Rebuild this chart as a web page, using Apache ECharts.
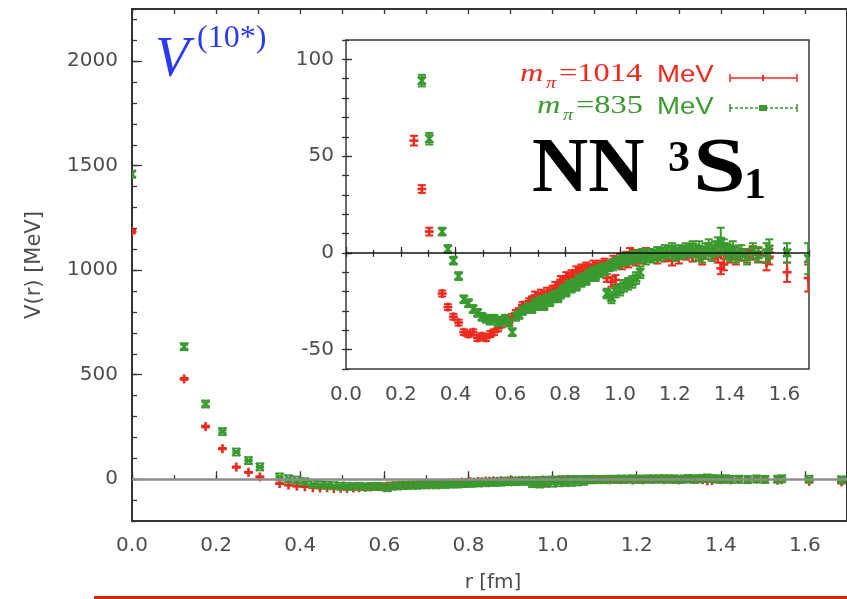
<!DOCTYPE html>
<html>
<head>
<meta charset="utf-8">
<script src="https://cdn.jsdelivr.net/npm/echarts@6/dist/echarts.min.js"></script>
<style>html,body{margin:0;padding:0;background:#fff;}#c{width:847px;height:599px;}</style>
</head>
<body>
<div id="c"></div>
<script>
// ---- data ----
var rLattice = [
  0, 0.124, 0.175, 0.215, 0.248, 0.277, 0.304, 0.351, 0.372, 0.392,
  0.411, 0.430, 0.447, 0.464, 0.480, 0.496, 0.511, 0.526, 0.540, 0.555,
  0.568, 0.582, 0.595, 0.607, 0.620, 0.632, 0.644, 0.656, 0.668, 0.679,
  0.690, 0.701, 0.712, 0.723, 0.734, 0.744, 0.754, 0.764, 0.774, 0.784,
  0.794, 0.804, 0.813, 0.823, 0.832, 0.841, 0.850, 0.859, 0.868, 0.877,
  0.886, 0.894, 0.903, 0.911, 0.920, 0.928, 0.936, 0.944, 0.952, 0.961,
  0.969, 0.976, 0.984, 0.992, 1.000, 1.007, 1.015, 1.023, 1.030, 1.037,
  1.045, 1.052, 1.059, 1.067, 1.074, 1.081, 1.095, 1.109, 1.122, 1.136,
  1.150, 1.163, 1.176, 1.190, 1.203, 1.215, 1.228, 1.240, 1.253, 1.265,
  1.277, 1.289, 1.300, 1.312, 1.324, 1.335, 1.346, 1.357, 1.368, 1.379,
  1.390, 1.401, 1.412, 1.423, 1.443, 1.464, 1.485, 1.505, 1.535, 1.545,
  1.610, 1.687
];
var redV = [
  1185, 480, 252, 146, 58, 33, 11, -21, -28, -33,
  -36, -41, -42, -41, -44, -43, -44, -42, -41, -39,
  -37, -35, -36, -33, -31, -30, -27, -28, -25, -24,
  -22, -23, -21, -22, -20, -21, -19, -17, -18, -14,
  -15, -12, -14, -11, -12, -9, -10, -8, -10, -7,
  -9, -8, -6, -9, -7, -6, -8, -5, -13, -6,
  -15, -4, -14, -5, -3, -6, -4, -2, -5, 0,
  -3, -1, -4, -2, -1, -3, 0, -2, -1, -3,
  0, -2, -1, -4, 0, -3, 1, -1, 0, -2,
  1, -1, -3, 0, 2, -1, 0, -2, -8, -6,
  1, -2, 0, -3, -1, -2, 0, -1, -5, -2,
  -10, -13
];
var redErr = [
  8, 5, 4, 3, 2.5, 2, 2, 1.5, 1.5, 1.5,
  1.5, 1.5, 1.5, 1.5, 1.5, 1.5, 1.5, 1.5, 1.5, 1.5,
  1.5, 1.5, 1.5, 1.5, 1.5, 1.5, 1.5, 1.5, 1.5, 1.5,
  2, 2, 2, 2, 2, 2, 2, 2, 2, 2,
  2, 2, 2, 2, 2, 2, 2, 2, 2, 2,
  2, 2, 2, 2, 2, 2, 2, 2, 2, 2,
  2.5, 2.5, 2.5, 2.5, 2.5, 2.5, 2.5, 2.5, 2.5, 2.5,
  2.5, 2.5, 2.5, 2.5, 2.5, 2.5, 2.5, 2.5, 2.5, 2.5,
  2.5, 2.5, 2.5, 2.5, 2.5, 2.5, 2.5, 2.5, 2.5, 2.5,
  3, 3, 3, 3, 3, 3, 3, 3, 3, 3,
  3, 3, 3, 3, 3, 3, 3.5, 3.5, 4, 4,
  5, 7
];
var greenV = [
  1460, 634, 360, 228, 130, 89, 59, 11, 2, -4,
  -12, -24, -26, -29, -31, -33, -34, -35, -34, -36,
  -35, -34, -36, -41, -33, -32, -30, -29, -28, -29,
  -26, -27, -25, -27, -24, -25, -23, -22, -23, -21,
  -19, -20, -17, -18, -16, -17, -14, -15, -13, -14,
  -11, -12, -10, -12, -9, -10, -8, -9, -21, -7,
  -23, -6, -20, -5, -19, -4, -17, -3, -16, -3,
  -15, -2, -13, -2, -10, -1, -3, -1, -2, 0,
  -1, 1, 0, 2, -1, 1, 0, 2, 1, 3,
  0, 2, -1, 1, 3, 0, 2, 4, 6, 3,
  1, 0, 2, -1, 0, -2, 1, -1, 0, 2,
  0, -3
];
var greenErr = [
  15, 10, 8, 5, 4, 3, 3, 2, 2, 2,
  2, 2, 2, 2, 2, 2, 2, 2, 2, 2,
  2, 2, 2, 2, 2, 2, 2, 2, 2, 2,
  2.5, 2.5, 2.5, 2.5, 2.5, 2.5, 2.5, 2.5, 2.5, 2.5,
  2.5, 2.5, 2.5, 2.5, 2.5, 2.5, 2.5, 2.5, 2.5, 2.5,
  2.5, 2.5, 2.5, 2.5, 2.5, 2.5, 2.5, 2.5, 2.5, 2.5,
  3, 3, 3, 3, 3, 3, 3, 3, 3, 3,
  3, 3, 3, 3, 3, 3, 3, 3, 3, 3,
  3, 3, 3, 3, 3, 3, 3, 3, 3, 3,
  4, 4, 4, 4, 4, 4, 4, 4, 7, 4,
  4, 4, 4, 4, 4, 4, 4, 4, 5, 5,
  5, 8
];
var xMajorTicks = [0, 0.2, 0.4, 0.6, 0.8, 1.0, 1.2, 1.4, 1.6];
var yMainTicks = [0, 500, 1000, 1500, 2000];
var yInsetTicks = [-50, 0, 50, 100];

// ---- styling ----
var RED = '#ee2a1e', GREEN = '#3a9a30', BLUE = '#2a3af0', LABEL = '#4d4d4d', AXIS = '#333';
var tickFont = {fontFamily: 'DejaVu Sans', fontSize: 20, color: LABEL};

function build(vals, errs) {
  return rLattice.map(function (r, i) { return [r, vals[i], errs[i]]; });
}
function ln(x1, y1, x2, y2, color, w) {
  return {type: 'line', shape: {x1: x1, y1: y1, x2: x2, y2: y2}, style: {stroke: color, lineWidth: w || 1.5}};
}
function renderer(kind, color) {
  return function (params, api) {
    var r = api.value(0), v = api.value(1), e = api.value(2);
    var c = api.coord([r, v]);
    var t = api.coord([r, v + e]);
    var b = api.coord([r, v - e]);
    var cap = 4, s = 4.5;
    var kids = [
      ln(c[0], t[1], c[0], b[1], color, 2),
      ln(c[0] - cap, t[1], c[0] + cap, t[1], color, 2),
      ln(c[0] - cap, b[1], c[0] + cap, b[1], color, 2)
    ];
    if (kind === 'plus') {
      kids.push(ln(c[0] - s, c[1], c[0] + s, c[1], color, 2.6));
      kids.push(ln(c[0], c[1] - s, c[0], c[1] + s, color, 2.6));
    } else {
      kids.push(ln(c[0] - 4, c[1] - 4, c[0] + 4, c[1] + 4, color, 2.2));
      kids.push(ln(c[0] - 4, c[1] + 4, c[0] + 4, c[1] - 4, color, 2.2));
      kids.push(ln(c[0] - 4, c[1] - 3.5, c[0] + 4, c[1] - 3.5, color, 1.8));
      kids.push(ln(c[0] - 4, c[1] + 3.5, c[0] + 4, c[1] + 3.5, color, 1.8));
    }
    return {type: 'group', children: kids};
  };
}
function series(kind, color, vals, errs, xi, yi, zeroColor, zeroW) {
  var s = {
    type: 'custom', xAxisIndex: xi, yAxisIndex: yi, clip: true,
    encode: {x: 0, y: 1}, renderItem: renderer(kind, color),
    data: build(vals, errs), silent: true
  };
  if (zeroColor) {
    s.markLine = {silent: true, symbol: ['none', 'none'], label: {show: false}, animation: false,
      lineStyle: {type: 'solid', color: zeroColor, width: zeroW}, data: [{yAxis: 0}]};
  }
  return s;
}
function txt(text, x, baseline, size, family, o) {
  o = o || {};
  var font = (o.style || 'normal') + ' ' + (o.weight || 'normal') + ' ' + size + 'px ' + family;
  return {type: 'text', x: x, y: baseline - 0.34 * size, scaleX: o.sx || 1, rotation: o.rot || 0, z: 100,
    style: {text: text, font: font, fill: o.color || '#000',
      textAlign: o.align || 'left', align: o.align || 'left',
      textVerticalAlign: 'middle', verticalAlign: 'middle'}};
}
var SERIF = '"Liberation Serif"', SANS = '"Liberation Sans"', DV = '"DejaVu Sans"';

function xAx(grid, max, pos, opts) {
  var a = {type: 'value', gridIndex: grid, min: 0, max: max, position: pos,
    axisLine: {show: false}, splitLine: {show: false},
    axisTick: {inside: true, length: opts.len, lineStyle: {color: AXIS, width: 1.3}},
    axisLabel: {show: false}};
  if (opts.major) {
    a.axisTick.customValues = xMajorTicks;
    a.axisLabel = Object.assign({show: true, customValues: xMajorTicks, margin: opts.margin,
      formatter: function (v) { return v.toFixed(1); }}, tickFont);
  } else {
    a.interval = 0.1;
  }
  return a;
}
function yAx(grid, min, max, pos, opts) {
  var a = {type: 'value', gridIndex: grid, min: min, max: max, position: pos,
    axisLine: {show: false}, splitLine: {show: false},
    axisTick: {inside: true, length: opts.len, lineStyle: {color: AXIS, width: 1.3}},
    axisLabel: {show: false}};
  if (opts.major) {
    a.axisTick.customValues = opts.major;
    a.axisLabel = Object.assign({show: true, customValues: opts.major, margin: opts.margin,
      formatter: function (v) { return String(v); }}, tickFont);
  } else {
    a.interval = opts.interval;
  }
  return a;
}

var chart = echarts.init(document.getElementById('c'), null, {renderer: 'canvas'});
chart.setOption({
  animation: false,
  backgroundColor: '#fff',
  grid: [
    {left: 132, top: 9, width: 722, height: 512, show: true, borderColor: AXIS, borderWidth: 2, backgroundColor: 'transparent'},
    {left: 346, top: 40, width: 463, height: 329, show: true, borderColor: '#3a3a3a', borderWidth: 1.5, backgroundColor: '#fff'}
  ],
  xAxis: [
    xAx(0, 1.7, 'bottom', {major: true, len: 8, margin: 15}),
    xAx(0, 1.7, 'bottom', {len: 4}),
    xAx(0, 1.7, 'top', {len: 5}),
    xAx(1, 1.69, 'bottom', {major: true, len: 6, margin: 16}),
    xAx(1, 1.69, 'bottom', {len: 3}),
    xAx(1, 1.69, 'top', {len: 4})
  ],
  yAxis: [
    yAx(0, -200, 2250, 'left', {major: yMainTicks, len: 10, margin: 14}),
    yAx(0, -200, 2250, 'left', {interval: 100, len: 5}),
    yAx(1, -60, 110, 'left', {major: yInsetTicks, len: 6, margin: 12}),
    yAx(1, -60, 110, 'left', {interval: 10, len: 3}),
    yAx(1, -60, 110, 'right', {interval: 10, len: 4})
  ],
  series: [
    series('plus', RED, redV, redErr, 0, 0, '#8c8c8c', 2.5),
    series('cross', GREEN, greenV, greenErr, 0, 0),
    series('plus', RED, redV, redErr, 3, 2, '#111', 1.5),
    series('cross', GREEN, greenV, greenErr, 3, 2)
  ],
  graphic: [
    // axis names
    txt('V(r) [MeV]', 35, 265 + 0.34 * 21, 21, DV, {color: LABEL, align: 'center', rot: Math.PI / 2}),
    txt('r [fm]', 493, 590, 20, DV, {color: LABEL, align: 'center'}),
    // V^(10*)
    txt('V', 155, 80, 56, SERIF, {style: 'italic', color: BLUE}),
    txt('(10*)', 197, 49, 32, SERIF, {color: BLUE}),
    // NN 3S1
    txt('NN', 532, 197, 78, SERIF, {weight: 'bold'}),
    txt('3', 668, 175, 44, SERIF, {weight: 'bold'}),
    txt('S', 693, 197, 78, SERIF, {weight: 'bold', sx: 1.22}),
    txt('1', 744, 202, 44, SERIF, {weight: 'bold'}),
    // legend row 1
    txt('m', 520, 83, 25, SERIF, {style: 'italic', color: RED, sx: 1.3}),
    txt('π', 546, 89, 17, SERIF, {style: 'italic', color: RED, sx: 1.2}),
    txt('=1014', 559, 83, 25, SERIF, {color: RED, sx: 1.3}),
    txt('MeV', 657, 83, 23, SANS, {color: RED, sx: 1.2}),
    // legend row 2
    txt('m', 537, 115, 25, SERIF, {style: 'italic', color: GREEN, sx: 1.3}),
    txt('π', 563, 121, 17, SERIF, {style: 'italic', color: GREEN, sx: 1.2}),
    txt('=835', 576, 115, 25, SERIF, {color: GREEN, sx: 1.3}),
    txt('MeV', 657, 115, 23, SANS, {color: GREEN, sx: 1.2}),
    // legend samples
    {type: 'line', z: 100, shape: {x1: 730, y1: 78, x2: 797, y2: 78}, style: {stroke: RED, lineWidth: 1.5}},
    {type: 'line', z: 100, shape: {x1: 730, y1: 74, x2: 730, y2: 82}, style: {stroke: RED, lineWidth: 1.5}},
    {type: 'line', z: 100, shape: {x1: 797, y1: 74, x2: 797, y2: 82}, style: {stroke: RED, lineWidth: 1.5}},
    {type: 'line', z: 100, shape: {x1: 763, y1: 75, x2: 763, y2: 81}, style: {stroke: RED, lineWidth: 2}},
    {type: 'line', z: 100, shape: {x1: 730, y1: 108, x2: 797, y2: 108}, style: {stroke: GREEN, lineWidth: 1.5, lineDash: [3, 2]}},
    {type: 'line', z: 100, shape: {x1: 730, y1: 104, x2: 730, y2: 112}, style: {stroke: GREEN, lineWidth: 1.5}},
    {type: 'line', z: 100, shape: {x1: 797, y1: 104, x2: 797, y2: 112}, style: {stroke: GREEN, lineWidth: 1.5}},
    {type: 'rect', z: 100, shape: {x: 759, y: 105, width: 8, height: 6}, style: {fill: GREEN}},
    // bottom red rule
    {type: 'rect', z: 100, shape: {x: 94, y: 596, width: 753, height: 3}, style: {fill: '#cc2a10'}}
  ]
});
</script>
</body>
</html>
